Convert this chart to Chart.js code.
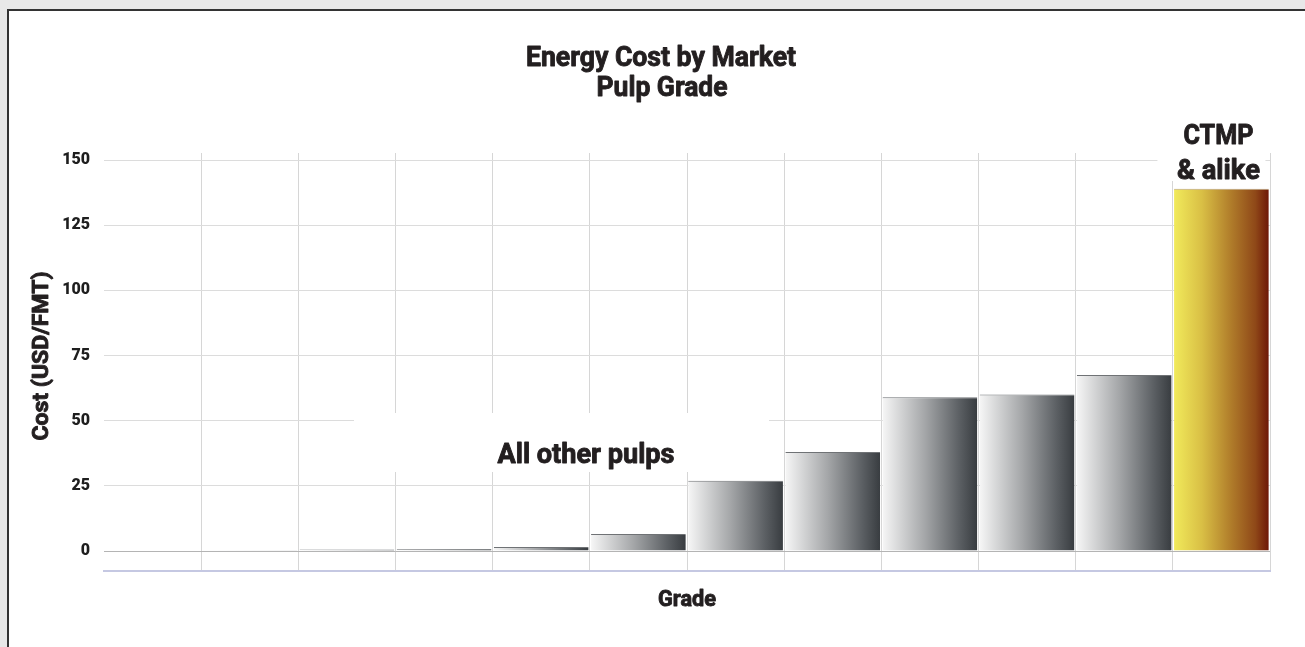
<!DOCTYPE html>
<html>
<head>
<meta charset="utf-8">
<script src="https://cdn.jsdelivr.net/npm/chart.js@4.4.1/dist/chart.umd.min.js"></script>
<style>
  html, body { margin: 0; padding: 0; background: #e8e8e8; overflow: hidden; }
  #frame { position: absolute; left: 7px; top: 9px; width: 1400px; height: 700px; background: #fff;
           border-top: 2px solid #333; border-left: 2px solid #333; }
  #wrap { position: absolute; left: 0; top: 0; width: 1305px; height: 647px; }
</style>
</head>
<body>
<div id="frame"></div>
<div id="wrap"><canvas id="c" width="1305" height="647"></canvas></div>
<script>
// ---- data ----
const grades = ['Grade 1','Grade 2','Grade 3','Grade 4','Grade 5','Grade 6','Grade 7','Grade 8','Grade 9','Grade 10','Grade 11','Grade 12'];
const costs = [0.15, 0.3, 0.6, 0.8, 1.5, 6.5, 27, 38, 59, 60, 67.5, 139];
const yTicks = [0, 25, 50, 75, 100, 125, 150];
const titleLines = ['Energy Cost by Market', 'Pulp Grade'];
const yTitle = 'Cost (USD/FMT)';
const xTitle = 'Grade';
const noteOther = 'All other pulps';
const noteCtmp = ['CTMP', '& alike'];
const highlightIndex = 11;

const TEXT = '#231f20';

function drawScaled(ctx, text, cx, baseline, size, targetW) {
  ctx.save();
  ctx.font = 'bold ' + size + 'px Roboto';
  const w = ctx.measureText(text).width;
  const s = targetW / w;
  ctx.translate(cx, baseline);
  ctx.scale(s, 1);
  ctx.textAlign = 'center';
  ctx.textBaseline = 'alphabetic';
  ctx.fillStyle = TEXT;
  ctx.strokeStyle = TEXT;
  ctx.lineWidth = 0.9;
  ctx.lineJoin = 'round';
  ctx.fillText(text, 0, 0);
  ctx.strokeText(text, 0, 0);
  ctx.restore();
}

const textPlugin = {
  id: 'texts',
  afterDatasetsDraw(chart) {
    const ctx = chart.ctx;
    const xs = chart.scales.x;
    // title
    drawScaled(ctx, titleLines[0], 661, 66, 27, 270);
    drawScaled(ctx, titleLines[1], 662, 96, 27, 131);
    // x title
    drawScaled(ctx, xTitle, 687, 606, 22, 58);
    // y title (rotated)
    ctx.save();
    ctx.translate(48, 356);
    ctx.rotate(-Math.PI / 2);
    drawScaled(ctx, yTitle, 0, 0, 22, 169);
    ctx.restore();
    // "All other pulps" box
    ctx.save();
    ctx.fillStyle = '#ffffff';
    ctx.fillRect(354, 413, 415, 59);
    ctx.restore();
    drawScaled(ctx, noteOther, 586, 463, 27, 177);
    // CTMP box anchored to highlighted bar
    const cx = xs.getPixelForValue(highlightIndex) - 3;
    ctx.save();
    ctx.fillStyle = '#ffffff';
    ctx.fillRect(cx - 61, 114, 108, 67);
    ctx.restore();
    drawScaled(ctx, noteCtmp[0], cx, 144, 27, 70);
    drawScaled(ctx, noteCtmp[1], cx, 179, 27, 83);
  }
};

function barGradient(context) {
  const chart = context.chart;
  if (!chart.chartArea || !chart.scales.x) return '#888';
  const xs = chart.scales.x;
  const i = context.dataIndex;
  const cw = (xs.right - xs.left) / grades.length;
  const c = xs.getPixelForValue(i);
  const g = chart.ctx.createLinearGradient(c - cw / 2, 0, c + cw / 2, 0);
  if (i === highlightIndex) {
    g.addColorStop(0, '#f2ec5c');
    g.addColorStop(0.3, '#d9bf45');
    g.addColorStop(0.6, '#b07c2a');
    g.addColorStop(0.85, '#8f4818');
    g.addColorStop(1, '#6a1206');
  } else {
    g.addColorStop(0, '#f8f8f8');
    g.addColorStop(0.45, '#a4a6a8');
    g.addColorStop(0.8, '#5c6064');
    g.addColorStop(1, '#363a3e');
  }
  return g;
}

new Chart(document.getElementById('c'), {
  type: 'bar',
  data: {
    labels: grades,
    datasets: [{
      data: costs,
      backgroundColor: barGradient,
      borderColor: (ctx) => ctx.dataIndex === highlightIndex ? 'rgba(140,100,30,0.6)' : 'rgba(50,54,58,0.7)',
      borderWidth: { top: 1, left: 0, right: 0, bottom: 0 },
      borderSkipped: 'bottom',
      barPercentage: 0.975,
      categoryPercentage: 1.0
    }]
  },
  plugins: [textPlugin],
  options: {
    responsive: false,
    animation: false,
    layout: { padding: { left: 0, right: 35, top: 153, bottom: 76 } },
    plugins: {
      legend: { display: false },
      title: { display: false },
      tooltip: { enabled: false }
    },
    scales: {
      x: {
        offset: true,
        afterFit(scale) { scale.height = 0; },
        ticks: { display: false },
        grid: {
          offset: true,
          drawTicks: false,
          color: (ctx) => ctx.index === 0 ? 'rgba(0,0,0,0)' : '#d6d6d6',
          lineWidth: 1
        },
        border: { display: true, color: '#c5c8e2', width: 2 }
      },
      y: {
        min: -7.67,
        max: 152.7,
        afterFit(scale) { scale.width = 104; },
        afterBuildTicks(scale) { scale.ticks = yTicks.map(v => ({ value: v })); },
        ticks: {
          padding: 14,
          color: '#1e1e1e',
          font: { family: 'Roboto', weight: '900', size: 16 }
        },
        grid: {
          drawTicks: false,
          color: (ctx) => ctx.tick && ctx.tick.value === 0 ? '#b4b4b4' : '#dcdcdc',
          lineWidth: 1
        },
        border: { display: false }
      }
    }
  }
});
</script>
</body>
</html>
